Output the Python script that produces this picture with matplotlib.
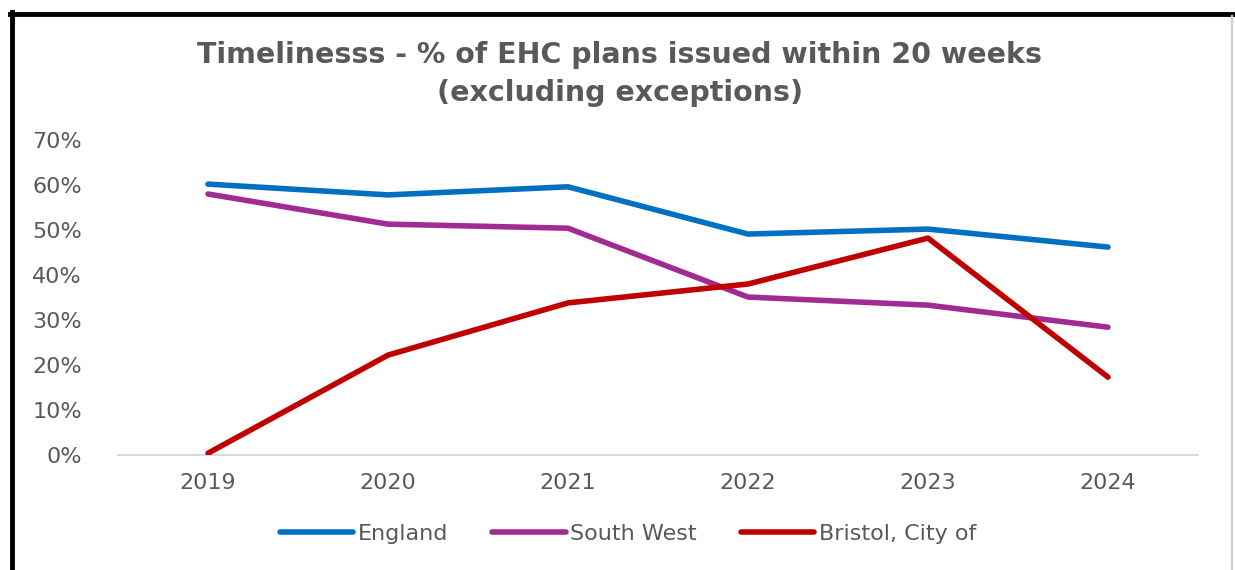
import matplotlib.pyplot as plt
from matplotlib.lines import Line2D
from matplotlib.ticker import PercentFormatter

years = ['2019', '2020', '2021', '2022', '2023', '2024']
england = [60.2, 57.8, 59.6, 49.1, 50.2, 46.2]
south_west = [58.0, 51.3, 50.4, 35.1, 33.3, 28.4]
bristol = [0.4, 22.2, 33.8, 38.0, 48.2, 17.3]

series_names = ['England', 'South West', 'Bristol, City of']
series_colors = ['#0070C0', '#A02B93', '#C00000']

text_grey = '#595959'

fig = plt.figure(figsize=(12.35, 5.70), dpi=100)
ax = fig.add_axes([118 / 1235, 1 - 455 / 570, (1198 - 118) / 1235, (455 - 140) / 570])

x = list(range(len(years)))
for vals, name, col in zip([england, south_west, bristol], series_names, series_colors):
    ax.plot(x, vals, color=col, linewidth=4.0, solid_capstyle='round',
            solid_joinstyle='round', label=name)

ax.set_xlim(-0.5, len(years) - 0.5)
ax.set_ylim(0, 70)
ax.set_yticks(range(0, 71, 10))
ax.yaxis.set_major_formatter(PercentFormatter(decimals=0))
ax.set_xticks(x)
ax.set_xticklabels(years)
ax.tick_params(axis='both', length=0, labelsize=16, colors=text_grey)
ax.tick_params(axis='x', pad=13)
ax.tick_params(axis='y', pad=26)

for side in ['top', 'right', 'left']:
    ax.spines[side].set_visible(False)
ax.spines['bottom'].set_color('#D9D9D9')
ax.spines['bottom'].set_linewidth(1.5)
ax.spines['bottom'].set_zorder(0)

fig.text(0.502, 1 - 55 / 570, 'Timelinesss - % of EHC plans issued within 20 weeks',
         ha='center', va='center', fontsize=20.5, fontweight='bold', color=text_grey)
fig.text(0.502, 1 - 93 / 570, '(excluding exceptions)',
         ha='center', va='center', fontsize=20.5, fontweight='bold', color=text_grey)

leg = fig.legend(loc='center', bbox_to_anchor=(628 / 1235, 1 - 534 / 570), ncol=3,
                 frameon=False, fontsize=16, handlelength=3.3, handletextpad=0.2,
                 columnspacing=2.0)
for t in leg.get_texts():
    t.set_color(text_grey)

# outer frame (black on left/top, thin grey on right)
fig.add_artist(Line2D([12 / 1235, 12 / 1235], [0, 1 - 12 / 570], color='black',
                      linewidth=3.5, transform=fig.transFigure))
fig.add_artist(Line2D([10 / 1235, 1235 / 1235], [1 - 14 / 570, 1 - 14 / 570], color='black',
                      linewidth=3.5, transform=fig.transFigure))
fig.add_artist(Line2D([1232 / 1235, 1232 / 1235], [0, 1 - 16 / 570], color='#D0D0D0',
                      linewidth=1.5, transform=fig.transFigure))

fig.savefig('out.png', dpi=100)
